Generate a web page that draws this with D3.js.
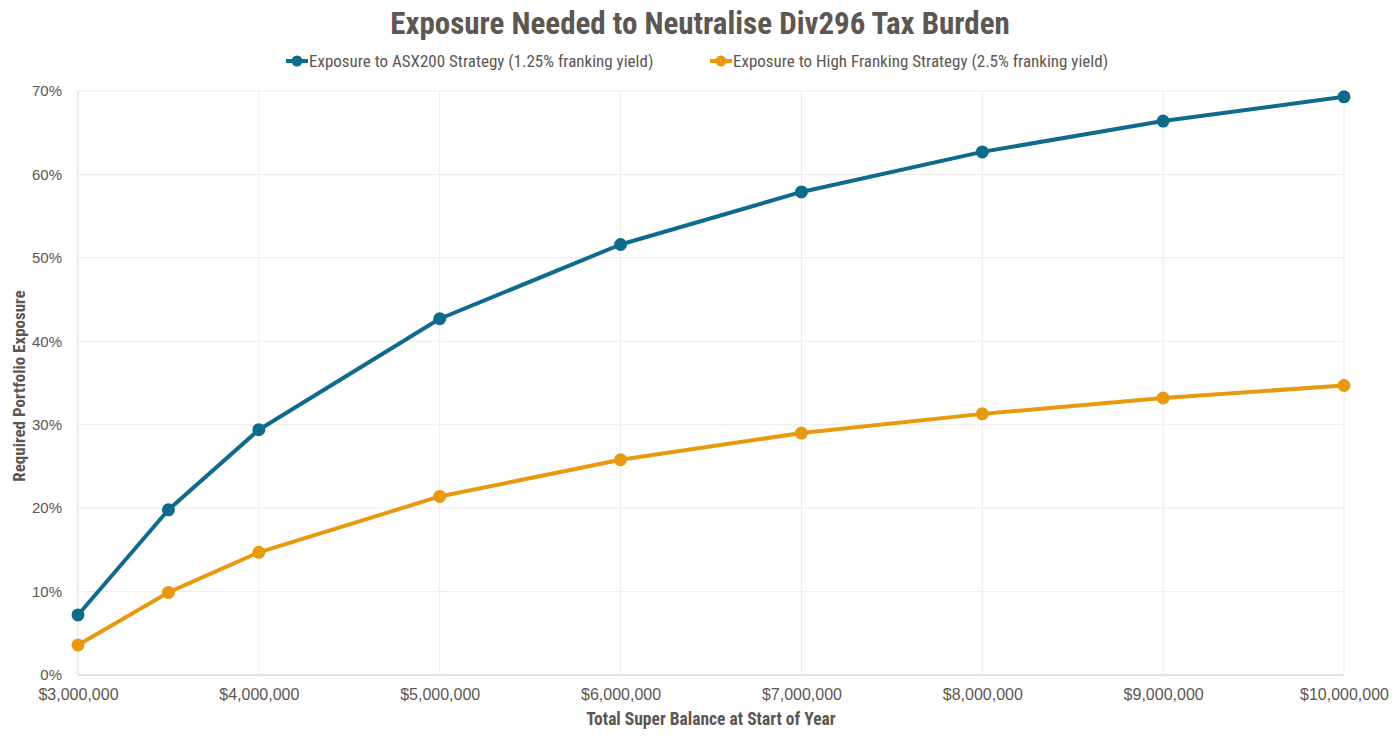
<!DOCTYPE html>
<html>
<head>
<meta charset="utf-8">
<script src="https://cdn.jsdelivr.net/npm/d3@7"></script>
<style>
  body { margin: 0; background: #fff; }
  text { fill: #5e5650; }
</style>
</head>
<body>
<svg id="chart"></svg>
<script>
// balances in dollars
var balances = [3000000, 3500000, 4000000, 5000000, 6000000, 7000000, 8000000, 9000000, 10000000];
var asx200 = [7.2, 19.8, 29.4, 42.7, 51.6, 57.9, 62.7, 66.4, 69.3];
var highFranking = [3.6, 9.9, 14.7, 21.4, 25.8, 29.0, 31.3, 33.2, 34.7];
var xTicks = [3000000, 4000000, 5000000, 6000000, 7000000, 8000000, 9000000, 10000000];
var yTicks = [0, 10, 20, 30, 40, 50, 60, 70];
var seriesNames = ["Exposure to ASX200 Strategy (1.25% franking yield)",
                   "Exposure to High Franking Strategy (2.5% franking yield)"];
var colors = ["#0f6b8c", "#e8990e"];

var width = 1400, height = 740;
var svg = d3.select("#chart").attr("width", width).attr("height", height);

var x = d3.scaleLinear().domain([3000000, 10000000]).range([78, 1344]);
var y = d3.scaleLinear().domain([0, 70]).range([675, 91]);

var narrow = "'Liberation Sans Narrow', 'Roboto Condensed', 'Noto Sans', sans-serif";
var body = "'Liberation Sans', Arial, sans-serif";

// gridlines
svg.append("g").selectAll("line.h").data(yTicks).enter().append("line")
   .attr("x1", x.range()[0]).attr("x2", x.range()[1])
   .attr("y1", function(d){ return y(d); }).attr("y2", function(d){ return y(d); })
   .attr("stroke", function(d){ return d === 0 ? "#e2d9d0" : "#f0ebe5"; })
   .attr("stroke-width", function(d){ return d === 0 ? 1.5 : 1; });
svg.append("g").selectAll("line.v").data(xTicks).enter().append("line")
   .attr("y1", y(0)).attr("y2", y(70))
   .attr("x1", function(d){ return x(d); }).attr("x2", function(d){ return x(d); })
   .attr("stroke", function(d, i){ return i === 0 ? "#e2d9d0" : "#f0ebe5"; })
   .attr("stroke-width", 1);

// axes
var fmtMoney = d3.format("$,.0f");
var xAxis = svg.append("g").attr("transform", "translate(0," + y(0) + ")")
   .call(d3.axisBottom(x).tickValues(xTicks).tickFormat(fmtMoney).tickSize(0).tickPadding(14));
var yAxis = svg.append("g").attr("transform", "translate(" + x.range()[0] + ",0)")
   .call(d3.axisLeft(y).tickValues(yTicks).tickFormat(function(d){ return d + "%"; }).tickSize(0).tickPadding(16));
[xAxis, yAxis].forEach(function(a){
    a.select(".domain").remove();
    a.selectAll("text").style("font-family", body).attr("fill", "#5e5650");
});
xAxis.selectAll("text").style("font-size", "16px");
yAxis.selectAll("text").style("font-size", "15px");

// title
svg.append("text").attr("x", 700).attr("y", 34).attr("text-anchor", "middle")
   .style("font-family", narrow).style("font-size", "31px").style("font-weight", "bold")
   .text("Exposure Needed to Neutralise Div296 Tax Burden");

// axis titles
svg.append("text").attr("x", 711).attr("y", 725).attr("text-anchor", "middle")
   .style("font-family", narrow).style("font-size", "17.5px").style("font-weight", "bold")
   .text("Total Super Balance at Start of Year");
svg.append("text").attr("transform", "translate(25," + 386 + ") rotate(-90)").attr("text-anchor", "middle")
   .style("font-family", narrow).style("font-size", "17px").style("font-weight", "bold")
   .text("Required Portfolio Exposure");

// legend
var legendX = [286, 710];
seriesNames.forEach(function(name, i){
    var g = svg.append("g").attr("transform", "translate(" + legendX[i] + ",61)");
    g.append("line").attr("x1", 0).attr("x2", 22).attr("stroke", colors[i]).attr("stroke-width", 4);
    g.append("circle").attr("cx", 11).attr("r", 5.5).attr("fill", colors[i]);
    g.append("text").attr("x", 23).attr("dy", "0.35em")
     .style("font-family", narrow).style("font-size", "17px").text(name);
});

// lines
var series = [asx200, highFranking];
var line = d3.line().x(function(d){ return x(d[0]); }).y(function(d){ return y(d[1]); });
series.forEach(function(vals, i){
    var pts = balances.map(function(b, j){ return [b, vals[j]]; });
    svg.append("path").datum(pts).attr("d", line)
       .attr("fill", "none").attr("stroke", colors[i]).attr("stroke-width", 4)
       .attr("stroke-linejoin", "round");
    svg.append("g").selectAll("circle").data(pts).enter().append("circle")
       .attr("cx", function(d){ return x(d[0]); }).attr("cy", function(d){ return y(d[1]); })
       .attr("r", 6.5).attr("fill", colors[i]);
});
</script>
</body>
</html>
